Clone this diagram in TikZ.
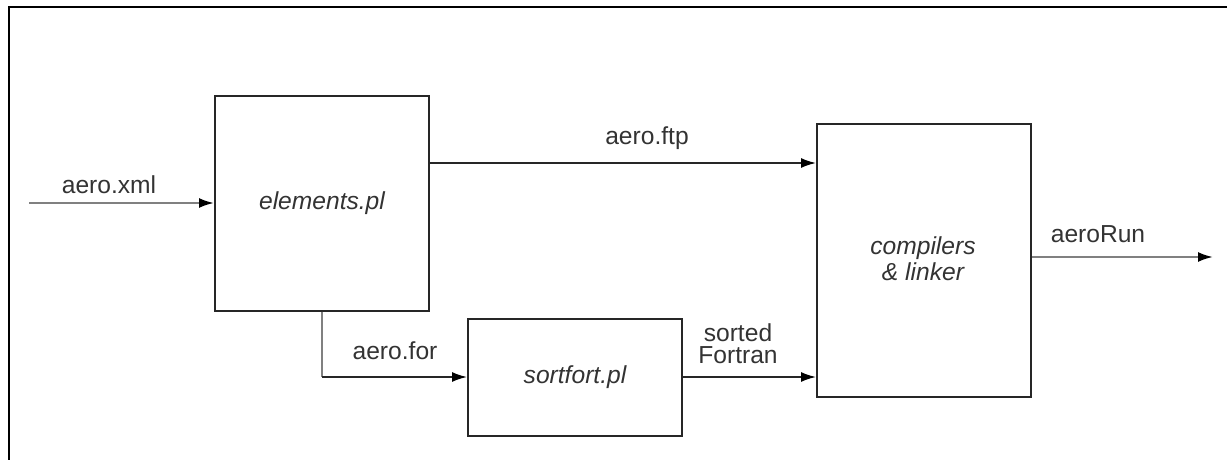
\documentclass[tikz,border=0pt]{standalone}
\usepackage{fontspec}
\setmainfont{Liberation Sans}
\usetikzlibrary{arrows.meta}
\begin{document}
\begin{tikzpicture}[x=0.5pt,y=-0.5pt,
  box/.style={draw=black!85,line width=1pt,inner sep=0pt},
  conn/.style={draw=black!85,line width=0.8pt,-{Latex[length=7.5pt,width=5pt,color=black]}},
  gconn/.style={conn,draw=black!50,line width=1.1pt},
  lbl/.style={font=\fontsize{12.3}{14}\selectfont,text=black!80,inner sep=0pt},
  ilbl/.style={lbl,font=\fontsize{12.3}{13}\selectfont\itshape,align=center}]
\useasboundingbox (0,0) rectangle (1227,460);
\draw[black,line width=1pt] (9,460) -- (9,7) -- (1227,7);
% boxes
\node[box,minimum width=107pt,minimum height=107pt] (el) at (322,203.5) {};
\node[ilbl] at (el.center) {elements.pl};
\node[box,minimum width=107pt,minimum height=58.5pt] (sf) at (575,377.5) {};
\node[ilbl] at (sf.center) {sortfort.pl};
\node[box,minimum width=107pt,minimum height=136.5pt] (cl) at (924,260.5) {};
\node[ilbl] at (923,259) {compilers\\ \& linker};
% connectors
\coordinate (in) at (29,203);
\coordinate (out) at (1213,257);
\coordinate (bend) at (322,377);
\draw[gconn] (in) -- (el.west |- in);
\draw[conn] (el.east |- 0,163) -- (cl.west |- 0,163);
\draw[gconn,-] (el.south -| bend) -- (bend);
\draw[conn] (bend) -- (sf.west |- bend);
\draw[conn] (sf.east |- 0,377) -- (cl.west |- 0,377);
\draw[gconn] (cl.east |- out) -- (out);
% labels
\node[lbl] (lxml) at (109,185) {aero.xml};
\node[lbl] (lftp) at (647,138) {aero.ftp};
\node[lbl] (lfor) at (395,351) {aero.for};
\node[lbl,align=center] (lsrt) at (738,344) {sorted\\[-3pt]Fortran};
\node[lbl] (lrun) at (1098,234) {aeroRun};
\end{tikzpicture}
\end{document}
